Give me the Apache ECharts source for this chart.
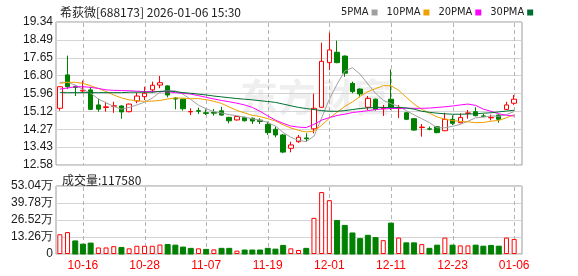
<!DOCTYPE html>
<html>
<head>
<meta charset="utf-8">
<script src="https://cdn.jsdelivr.net/npm/echarts@6.0.0/dist/echarts.min.js"></script>
<style>
html,body{margin:0;padding:0;background:#fff;}
#c{width:578px;height:276px;}
</style>
</head>
<body>
<div id="c"></div>
<script>
const dates = ['10-13','10-14','10-15','10-16','10-17','10-20','10-21','10-22','10-23','10-24',
  '10-27','10-28','10-29','10-30','10-31','11-03','11-04','11-05','11-06','11-07',
  '11-10','11-11','11-12','11-13','11-14','11-17','11-18','11-19','11-20','11-21',
  '11-24','11-25','11-26','11-27','11-28','12-01','12-02','12-03','12-04','12-05',
  '12-08','12-09','12-10','12-11','12-12','12-15','12-16','12-17','12-18','12-19',
  '12-22','12-23','12-24','12-25','12-26','12-29','12-30','12-31','01-05','01-06'];
const tickDates = ['10-16','10-28','11-07','11-19','12-01','12-11','12-23','01-06'];
const priceTicks = ['12.58','13.43','14.27','15.12','15.96','16.80','17.65','18.49','19.34'];
const volTicks = ['0','13.26万','26.52万','39.78万','53.04万'];

const opens = [15.26,16.84,16.30,16.08,16.13,15.42,15.30,15.36,15.37,15.10,
  15.61,15.81,16.13,16.36,16.32,15.74,15.69,15.09,15.15,15.05,
  15.07,15.14,14.83,14.71,14.83,14.79,14.70,14.50,14.27,14.00,
  13.37,13.68,13.86,14.29,15.31,17.42,17.91,17.73,16.44,16.17,
  15.31,15.69,15.25,15.69,15.25,15.05,14.77,14.35,14.29,14.39,
  14.20,14.74,14.58,15.02,15.10,14.90,14.81,14.94,15.21,15.50];
const closes = [16.28,16.28,16.25,16.11,15.21,15.22,15.33,15.38,15.09,15.46,
  15.84,15.97,16.35,16.47,15.89,15.70,15.24,15.11,15.12,15.02,
  15.03,14.94,14.67,14.87,14.67,14.66,14.64,14.11,14.00,13.19,
  13.53,13.89,13.82,15.26,17.48,18.02,17.42,16.92,16.05,15.94,
  15.73,15.21,15.27,15.26,15.27,14.74,14.23,14.37,14.27,14.11,
  14.74,14.55,14.83,15.04,14.91,14.88,14.83,14.74,15.42,15.69];
const lows = [15.15,16.17,15.84,16.00,15.18,15.10,15.10,15.05,14.77,15.07,
  15.50,15.65,16.00,16.21,15.78,15.21,15.15,14.94,14.99,14.94,
  14.91,14.91,14.55,14.68,14.64,14.52,14.52,14.00,13.89,13.14,
  13.18,13.63,13.68,14.08,15.28,17.07,17.39,16.75,15.97,15.78,
  15.18,15.15,14.90,15.18,14.80,14.70,14.20,13.92,14.22,14.08,
  14.18,14.47,14.55,14.77,14.88,14.85,14.69,14.58,15.18,15.42];
const highs = [16.30,17.75,16.33,16.57,16.28,15.71,15.57,15.57,15.40,15.48,
  16.00,16.28,16.52,16.79,16.35,15.79,15.72,15.26,15.29,15.21,
  15.23,15.33,14.86,14.90,14.86,14.82,14.79,14.63,14.40,14.05,
  13.68,14.00,14.08,15.95,18.36,18.83,18.46,17.76,16.52,16.20,
  15.84,15.72,15.42,17.10,15.42,15.08,14.79,14.52,14.40,14.42,
  15.05,14.93,15.02,15.18,15.31,15.00,14.96,14.97,15.57,15.89];
const volumes = [154000,171000,102000,77000,85000,51000,51000,61000,51000,44000,
  64000,64000,64000,74000,74000,69000,54000,44000,44000,36000,
  36000,44000,44000,26000,31000,31000,31000,44000,38000,67000,
  44000,31000,44000,282000,483000,420000,261000,223000,164000,120000,
  146000,128000,108000,241000,128000,87000,87000,77000,44000,69000,
  128000,69000,67000,67000,69000,61000,67000,61000,128000,117580];
const ma5 = [16.49,16.49,16.36,16.15,15.98,15.70,15.52,15.35,15.22,15.30,
  15.42,15.55,15.74,16.02,16.10,16.08,15.93,15.68,15.41,15.24,
  15.10,15.04,14.96,14.91,14.84,14.76,14.70,14.59,14.42,14.12,
  13.89,13.74,13.69,13.94,14.80,15.69,16.40,17.02,17.18,16.87,
  16.41,15.97,15.64,15.48,15.35,15.15,14.95,14.77,14.58,14.34,
  14.34,14.41,14.50,14.65,14.81,14.84,14.90,14.88,14.96,15.11];
const ma10 = [16.44,16.49,16.49,16.44,16.33,16.20,16.05,15.89,15.75,15.66,
  15.62,15.59,15.60,15.63,15.70,15.75,15.74,15.71,15.72,15.67,
  15.59,15.49,15.32,15.16,15.04,14.93,14.87,14.77,14.66,14.48,
  14.33,14.22,14.14,14.18,14.46,14.79,15.07,15.35,15.56,15.83,
  16.05,16.19,16.33,16.33,16.11,15.78,15.46,15.21,15.03,14.85,
  14.75,14.68,14.64,14.62,14.58,14.59,14.65,14.69,14.81,14.96];
const ma20 = [16.17,16.22,16.28,16.28,16.25,16.20,16.13,16.11,16.10,16.09,
  16.07,16.05,16.05,16.05,16.04,16.00,15.97,15.93,15.86,15.78,
  15.70,15.63,15.57,15.50,15.42,15.30,15.12,14.90,14.70,14.55,
  14.42,14.37,14.35,14.50,14.70,14.82,14.92,14.98,15.06,15.10,
  15.15,15.20,15.23,15.25,15.26,15.26,15.26,15.26,15.27,15.30,
  15.33,15.37,15.42,15.46,15.40,15.22,15.12,15.00,14.93,14.90];
const ma30 = [16.00,16.00,16.00,16.00,16.00,16.00,16.00,16.00,16.00,16.02,
  16.02,16.02,16.02,16.06,16.08,16.05,16.00,15.97,15.93,15.89,
  15.84,15.80,15.76,15.72,15.69,15.66,15.62,15.58,15.54,15.46,
  15.38,15.30,15.25,15.20,15.15,15.12,15.12,15.15,15.20,15.25,
  15.28,15.30,15.30,15.30,15.30,15.28,15.22,15.12,15.07,15.03,
  15.00,14.98,14.98,14.99,15.00,15.03,15.05,15.09,15.13,15.17];

const RED = '#ff0000', GREEN = '#008000';
const candleData = dates.map((d, i) => [opens[i], closes[i], lows[i], highs[i]]);
const volData = volumes.map((v, i) => {
  const up = i === 0 || closes[i] >= closes[i - 1];
  return { value: v, itemStyle: up ? { color: '#fff', borderColor: RED, borderWidth: 1 } : { color: GREEN, borderColor: GREEN } };
});
const isTick = (idx) => tickDates.indexOf(dates[idx]) >= 0;
const L = 56, PW = 466, DW = 462;
const TOP0 = 22, H0 = 143, TOP1 = 186, H1 = 68;
const dataCat = (gi, showLabels) => ({
  type: 'category', gridIndex: gi, data: dates, boundaryGap: true,
  axisLine: { show: false },
  axisTick: { show: false },
  splitLine: { show: false },
  axisLabel: showLabels ? {
    show: true, color: RED, fontSize: 12, margin: 6, fontFamily: 'Liberation Sans, Arial, sans-serif',
    interval: isTick
  } : { show: false }
});
const frameX = (gi) => ({ type: 'value', gridIndex: gi, min: 0, max: 1, show: false });
const lbl = { color: '#1a1a1a', fontSize: 12, margin: 3, fontFamily: 'Liberation Sans, Arial, sans-serif' };
const maNames = ['5PMA', '10PMA', '20PMA', '30PMA'];
const maColors = ['#a0a0a0', '#f0a000', '#ff00ff', '#006e33'];
const maData = [ma5, ma10, ma20, ma30];

// dashed vertical grid line at each labelled date, positioned by the category axis
function vGridSeries(xi, yi) {
  return {
    type: 'custom', xAxisIndex: xi, yAxisIndex: yi, silent: true, z: 1, clip: false,
    encode: { x: 0, y: 1 },
    data: tickDates.map(d => [d, 0]),
    renderItem: (params, api) => {
      const x = Math.round(api.coord([api.value(0), api.value(1)])[0]) + 0.5;
      const cs = params.coordSys;
      const top = cs.y, bottom = cs.y + cs.height;
      const children = [];
      for (let y = top + 1; y < bottom; y += 7) {
        children.push({ type: 'line', silent: true,
          shape: { x1: x, y1: y, x2: x, y2: Math.min(y + 4, bottom) },
          style: { stroke: '#b4b4b4', lineWidth: 1 } });
      }
      return { type: 'group', children: children };
    }
  };
}

const chart = echarts.init(document.getElementById('c'), null, { renderer: 'canvas' });
chart.setOption({
  animation: false,
  backgroundColor: '#fff',
  title: [
    { text: '希荻微[688173] 2026-01-06 15:30', left: 55, top: 1,
      textStyle: { fontSize: 12, fontWeight: 'normal', color: '#222', fontFamily: 'Noto Sans CJK SC, sans-serif' } },
    { text: '成交量:117580', left: 57, top: 169,
      textStyle: { fontSize: 12, fontWeight: 'normal', color: '#222', fontFamily: 'Noto Sans CJK SC, sans-serif' } }
  ],
  legend: {
    data: maNames.map((n, i) => ({ name: n, itemStyle: { color: maColors[i] } })),
    left: 336, top: 2, icon: 'rect', itemWidth: 6, itemHeight: 6, itemGap: 9, align: 'right',
    selectedMode: false,
    textStyle: { fontSize: 11, color: '#222', fontFamily: 'Liberation Sans Narrow, DejaVu Sans Condensed, sans-serif', padding: [0, -2, 0, 0] }
  },
  graphic: [
    { type: 'text', left: 240, top: 78, z: -2, silent: true,
      style: { text: '东方财富', fontSize: 38, fontWeight: 'bold', fill: '#efefef', fontFamily: 'Noto Sans CJK SC, sans-serif' } }
  ],
  grid: [
    { left: L, top: TOP0, width: PW, height: H0, show: true, borderColor: '#9a9a9a', borderWidth: 1, backgroundColor: 'transparent' },
    { left: L, top: TOP0, width: DW, height: H0 },
    { left: L, top: TOP1, width: PW, height: H1, show: true, borderColor: '#9a9a9a', borderWidth: 1, backgroundColor: 'transparent' },
    { left: L, top: TOP1, width: DW, height: H1 }
  ],
  xAxis: [frameX(0), dataCat(1, false), frameX(2), dataCat(3, true)],
  yAxis: [
    { type: 'value', gridIndex: 0, min: 0, max: 8, interval: 1,
      axisLine: { show: false }, axisTick: { show: false },
      splitLine: { lineStyle: { color: '#d4d4d4' } },
      axisLabel: Object.assign({ formatter: v => priceTicks[Math.round(v)] }, lbl) },
    { type: 'value', gridIndex: 1, min: 12.58, max: 19.34, show: false, splitLine: { show: false } },
    { type: 'value', gridIndex: 2, min: 0, max: 4, interval: 1,
      axisLine: { show: false }, axisTick: { show: false },
      splitLine: { lineStyle: { color: '#d4d4d4' } },
      axisLabel: Object.assign({ formatter: v => volTicks[Math.round(v)] }, lbl) },
    { type: 'value', gridIndex: 3, min: 0, max: 530400, show: false, splitLine: { show: false } }
  ],
  series: [
    vGridSeries(1, 1),
    vGridSeries(3, 3),
    { type: 'candlestick', name: 'K', xAxisIndex: 1, yAxisIndex: 1, data: candleData, barWidth: 5,
      itemStyle: { color: '#fff', color0: GREEN, borderColor: RED, borderColor0: GREEN, borderWidth: 1 }, z: 3 },
    ...maNames.map((n, i) => ({
      type: 'line', name: n, xAxisIndex: 1, yAxisIndex: 1, data: maData[i],
      showSymbol: false, symbol: 'none', lineStyle: { width: 1, color: maColors[i] }, itemStyle: { color: maColors[i] }, z: 4
    })),
    { type: 'bar', name: 'VOL', xAxisIndex: 3, yAxisIndex: 3, data: volData, barWidth: 5 }
  ]
});
</script>
</body>
</html>
